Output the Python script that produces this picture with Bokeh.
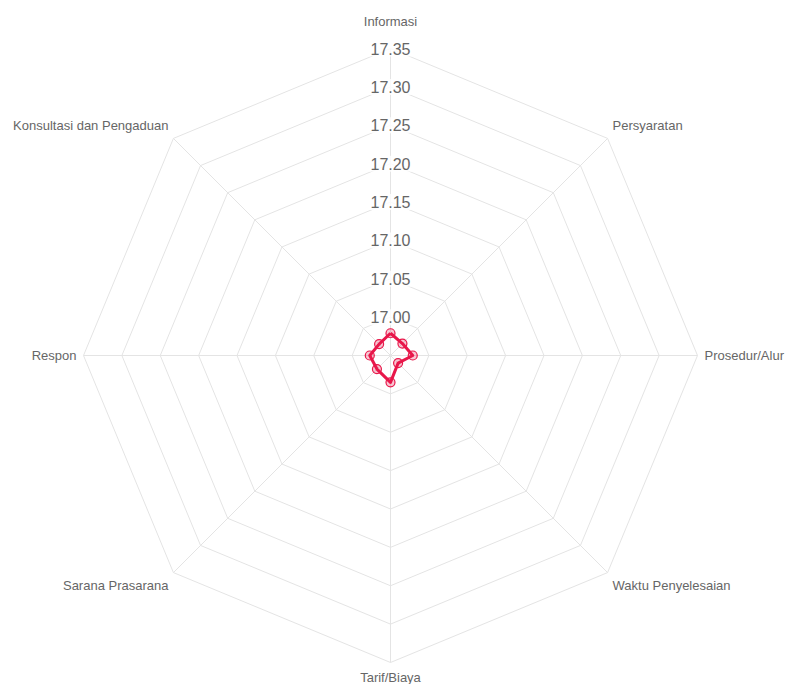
import math
from bokeh.plotting import figure
from bokeh.models import Range1d, ColumnDataSource
from bokeh.core.properties import value
from bokeh.embed import file_html
from bokeh.resources import INLINE

# ---- data ----
categories = ["Informasi", "Persyaratan", "Prosedur/Alur", "Waktu Penyelesaian",
              "Tarif/Biaya", "Sarana Prasarana", "Respon", "Konsultasi dan Pengaduan"]
scores = [16.979, 16.972, 16.979, 16.964, 16.985, 16.975, 16.977, 16.971]
tick_values = [17.00, 17.05, 17.10, 17.15, 17.20, 17.25, 17.30, 17.35]
tick_labels = ["17.00", "17.05", "17.10", "17.15", "17.20", "17.25", "17.30", "17.35"]
scale_min = 16.95
scale_max = 17.35

# ---- geometry ----
W, H = 786, 684
R = 307.0
n = len(categories)
angles = [2 * math.pi * i / n for i in range(n)]

def radius(v):
    return (v - scale_min) / (scale_max - scale_min) * R

def pt(r, a):
    return r * math.sin(a), r * math.cos(a)

p = figure(width=W, height=H, output_backend="svg", toolbar_location=None,
           x_range=Range1d(-390, 396), y_range=Range1d(-329, 355),
           x_axis_location=None, y_axis_location=None, min_border=0)
p.outline_line_color = None
p.xgrid.visible = False
p.ygrid.visible = False
p.background_fill_color = "white"
p.border_fill_color = "white"

grid_color = "#e4e4e4"

# spokes
for a in angles:
    x, y = pt(R, a)
    p.line([0, x], [0, y], line_color=grid_color, line_width=1)

# rings
for tv in tick_values:
    r = radius(tv)
    xs = [pt(r, a)[0] for a in angles] + [pt(r, angles[0])[0]]
    ys = [pt(r, a)[1] for a in angles] + [pt(r, angles[0])[1]]
    p.line(xs, ys, line_color=grid_color, line_width=1)

# data polygon
dx = [pt(radius(v), a)[0] for v, a in zip(scores, angles)]
dy = [pt(radius(v), a)[1] for v, a in zip(scores, angles)]
p.line(dx + [dx[0]], dy + [dy[0]], line_color="#e8174a", line_width=3, line_join="round")
p.scatter(dx, dy, size=9, marker="circle", fill_color="#e8174a", fill_alpha=0.25,
          line_color="#e8174a", line_width=1.2)

# tick labels with backdrop
tsrc = ColumnDataSource(dict(x=[0] * len(tick_values),
                             y=[radius(t) for t in tick_values],
                             t=tick_labels))
p.text(x="x", y="y", text="t", source=tsrc, text_align="center", text_baseline="middle",
       text_font=value("Liberation Sans"), text_font_size=value("16px"), text_color="#666666",
       background_fill_color="white", background_fill_alpha=0.8, padding=2)

# point labels
lx, ly, la, lb = [], [], [], []
for i, a in enumerate(angles):
    pad = 7 + (13 if i == 0 else 0)
    x, y = pt(R + pad, a)
    s, c = math.sin(a), math.cos(a)
    la.append("left" if s > 0.01 else ("right" if s < -0.01 else "center"))
    lb.append("bottom" if c > 0.01 else ("top" if c < -0.01 else "middle"))
    lx.append(x)
    ly.append(y)
lsrc = ColumnDataSource(dict(x=lx, y=ly, t=categories, al=la, bl=lb))
p.text(x="x", y="y", text="t", source=lsrc, text_align="al", text_baseline="bl",
       text_font=value("Liberation Sans"), text_font_size=value("13px"), text_color="#666666")

open("out.html", "w").write(file_html(p, INLINE))
